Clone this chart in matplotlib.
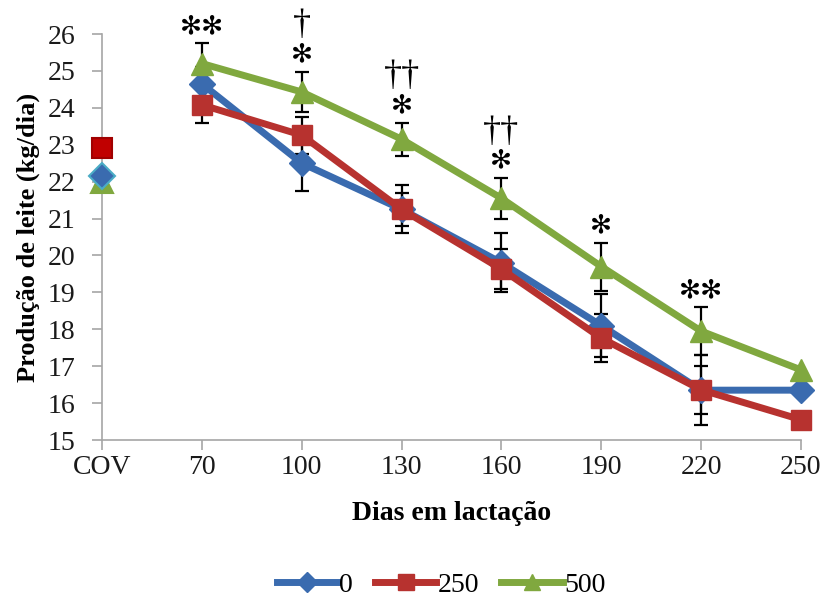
import matplotlib
matplotlib.use("Agg")
import matplotlib.pyplot as plt
from matplotlib.lines import Line2D
import numpy as np

# ---- data ----
categories = ["COV", "70", "100", "130", "160", "190", "220", "250"]
series_names = ["0", "250", "500"]

vals_0   = [22.15, 24.65, 22.50, 21.25, 19.80, 18.10, 16.35, 16.35]
vals_250 = [22.90, 24.08, 23.26, 21.25, 19.63, 17.76, 16.36, 15.55]
vals_500 = [22.00, 25.20, 24.43, 23.15, 21.55, 19.70, 17.95, 16.90]

err_0   = [None, 0.45, 0.75, 0.65, 0.80, 0.85, 0.95, None]
err_250 = [None, 0.48, 0.50, 0.45, 0.55, 0.65, 0.65, None]
err_500 = [None, 0.55, 0.55, 0.45, 0.55, 0.65, 0.65, None]

# significance marks (asterisk line, dagger line) per category
stars   = ["", "✻✻", "✻", "✻", "✻", "✻", "✻✻", ""]
daggers = ["", "", "†", "††", "††", "", "", ""]

yticks = list(range(15, 27))

# ---- style ----
colors = ["#3A6BAF", "#B7322F", "#80A83F"]
markers = ["D", "s", "^"]
msizes = [13, 15, 16]
cov_face = ["#3A6BAF", "#C00000", "#80A83F"]
cov_edge = ["#4BACC6", "#A00000", "#80A83F"]

serif = ["Liberation Serif", "DejaVu Serif"]

fig = plt.figure(figsize=(8.25, 5.98), dpi=100)
ax = fig.add_axes([102 / 825, 1 - 440 / 598, (801 - 102) / 825, (440 - 34) / 598])

x = np.arange(len(categories))
all_vals = [vals_0, vals_250, vals_500]
all_errs = [err_0, err_250, err_500]

for i, (v, e) in enumerate(zip(all_vals, all_errs)):
    v = np.array(v)
    idx = [k for k in range(len(e)) if e[k] is not None]
    ax.errorbar(x[idx], v[idx], yerr=[e[k] for k in idx], fmt="none",
                ecolor="black", elinewidth=1.6, capsize=5, capthick=1.6, zorder=2)
    ax.plot(x[1:], v[1:], color=colors[i], lw=5, marker=markers[i],
            ms=msizes[i], mfc=colors[i], mec=colors[i], zorder=3 + i,
            solid_capstyle="round", clip_on=False)
    ax.plot(x[:1], v[:1], linestyle="none", marker=markers[i], ms=msizes[i],
            mfc=cov_face[i], mec=cov_edge[i], mew=1.5,
            zorder=3 + (2 - i) * 0.1 + (i == 1) * 1, clip_on=False)

# annotations above green error bars
for k in range(len(categories)):
    top = vals_500[k] + (err_500[k] or 0)
    if stars[k]:
        ax.annotate(stars[k], (x[k], top), xytext=(0, 3), textcoords="offset points",
                    ha="center", va="bottom", fontsize=19, family="DejaVu Sans",
                    annotation_clip=False)
    if daggers[k]:
        ax.annotate(daggers[k], (x[k], top), xytext=(0, 21), textcoords="offset points",
                    ha="center", va="bottom", fontsize=26, family=serif,
                    annotation_clip=False)

ax.set_xlim(0, len(categories) - 1)
ax.set_ylim(15, 26)
ax.set_yticks(yticks)
ax.set_yticklabels([str(t) for t in yticks], family=serif, fontsize=20)
ax.set_xticks(x)
ax.set_xticklabels(categories, family=serif, fontsize=20)

for s in ["top", "right"]:
    ax.spines[s].set_visible(False)
for s in ["left", "bottom"]:
    ax.spines[s].set_color("#A6A6A6")
    ax.spines[s].set_linewidth(1.2)
ax.tick_params(axis="both", direction="out", color="#A6A6A6", width=1.2, length=7,
               labelcolor="#1a1a1a")
ax.tick_params(axis="y", pad=12)
ax.tick_params(axis="x", pad=4)

ax.set_ylabel("Produção de leite (kg/dia)", family=serif, fontsize=19,
              fontweight="bold", labelpad=6)
ax.set_xlabel("Dias em lactação", family=serif, fontsize=20, fontweight="bold",
              labelpad=15)

handles = [Line2D([], [], color=colors[i], lw=5, marker=markers[i],
                  ms=msizes[i] * 0.75, mfc=colors[i], mec=colors[i])
           for i in range(3)]
fig.legend(handles, series_names, loc="center", bbox_to_anchor=(441 / 825, 1 - 585 / 598),
           ncol=3, frameon=False, prop={"family": serif, "size": 20},
           handlelength=2.2, handletextpad=0.05, columnspacing=0.8)

fig.savefig("out.png", dpi=100)
